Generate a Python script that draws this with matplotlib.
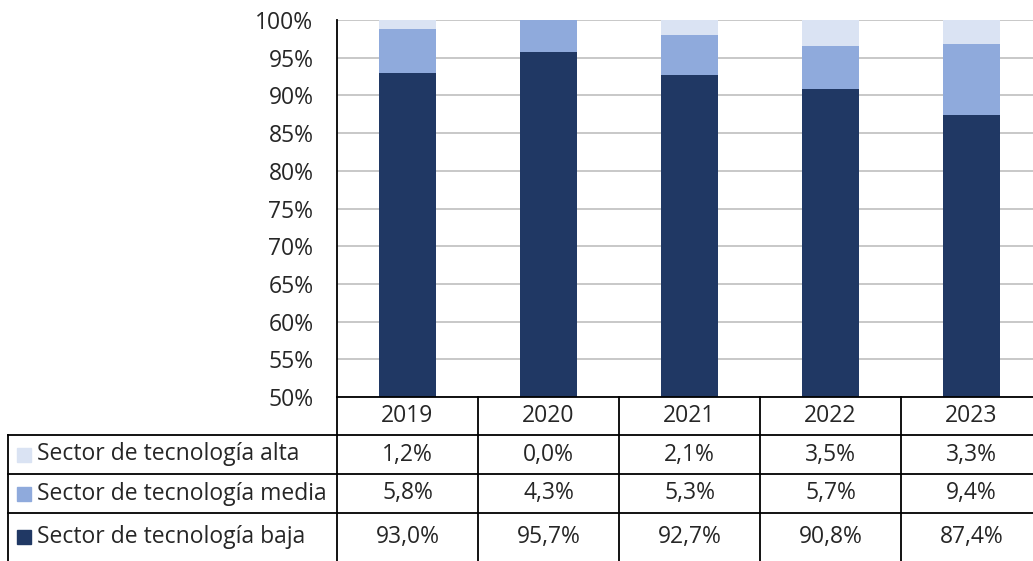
import numpy as np
import matplotlib.pyplot as plt
import matplotlib.transforms as mtransforms
from matplotlib.lines import Line2D
from matplotlib.patches import Rectangle

plt.rcParams['font.family'] = ['Open Sans', 'DejaVu Sans']

years = ['2019', '2020', '2021', '2022', '2023']
baja = [93.0, 95.7, 92.7, 90.8, 87.4]
media = [5.8, 4.3, 5.3, 5.7, 9.4]
alta = [1.2, 0.0, 2.1, 3.5, 3.3]
series = ['Sector de tecnología alta', 'Sector de tecnología media', 'Sector de tecnología baja']
colors = ['#DAE3F3', '#8FAADC', '#203864']

W, H = 1033, 561
fs = 16.5
fig = plt.figure(figsize=(W / 100, H / 100), dpi=100)
ax = fig.add_axes([337 / W, 1 - 397 / H, 705 / W, 377 / H])

x = np.arange(len(years))
ax.bar(x, baja, width=0.4, color=colors[2], zorder=2)
ax.bar(x, media, width=0.4, bottom=baja, color=colors[1], zorder=2)
ax.bar(x, alta, width=0.4, bottom=np.array(baja) + np.array(media), color=colors[0], zorder=2)

ax.set_xlim(-0.5, len(years) - 0.5)
ax.set_ylim(50, 100)
ax.set_yticks(np.arange(50, 101, 5))
ax.set_yticklabels([f'{v}%' for v in range(50, 101, 5)], fontsize=fs, color='#262626')
ax.tick_params(axis='y', length=0, pad=17)
ax.set_xticks([])
ax.yaxis.grid(True, color='#BFBFBF', linewidth=1.2, zorder=0)
for s in ['top', 'right', 'bottom']:
    ax.spines[s].set_visible(False)
ax.spines['left'].set_linewidth(1.3)

# table under the chart
def fy(py):
    return 1 - py / H

trans = mtransforms.blended_transform_factory(ax.transData, fig.transFigure)
lw = 1.3
rows_y = [397, 435, 474, 513, 561]
# horizontal lines
fig.add_artist(Line2D([337 / W, 1], [fy(397)] * 2, color='black', lw=lw))
for py in rows_y[1:4]:
    fig.add_artist(Line2D([8 / W, 1], [fy(py)] * 2, color='black', lw=lw))
# vertical lines
fig.add_artist(Line2D([8 / W] * 2, [fy(435), 0], color='black', lw=lw))
for i in range(len(years) + 1):
    fig.add_artist(Line2D([i - 0.5] * 2, [fy(397), 0], color='black', lw=lw,
                          transform=trans, clip_on=False))

txt_kw = dict(fontsize=fs, color='#262626', ha='center', va='center')
for i, yr in enumerate(years):
    fig.text(i, fy((397 + 435) / 2), yr, transform=trans, **txt_kw)

table_vals = [alta, media, baja]
for r, (name, vals, c) in enumerate(zip(series, table_vals, colors)):
    cy = fy((rows_y[r + 1] + rows_y[r + 2]) / 2)
    fig.add_artist(Rectangle((17 / W, cy - 7 / H), 14 / W, 14 / H, color=c,
                             transform=fig.transFigure))
    fig.text(37 / W, cy, name, fontsize=fs, color='#262626', ha='left', va='center')
    for i, v in enumerate(vals):
        fig.text(i, cy, f'{v:.1f}%'.replace('.', ','), transform=trans, **txt_kw)

fig.savefig('out.png', dpi=100)
